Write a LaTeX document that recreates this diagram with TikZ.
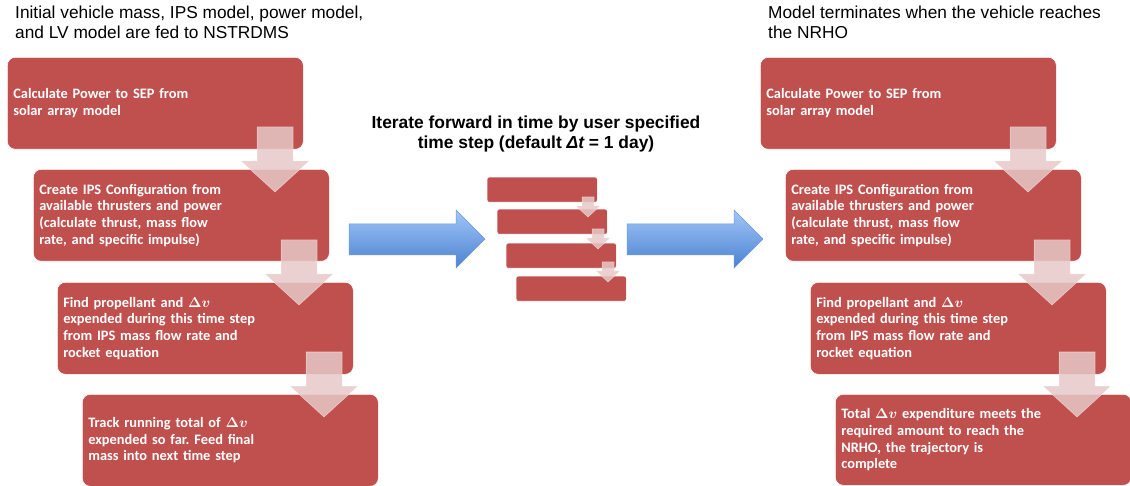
\documentclass[tikz,border=0pt]{standalone}
\usepackage{fontspec}
\setmainfont{Liberation Sans}
\newfontfamily\boxfont{Carlito}
\frenchspacing
\definecolor{boxred}{HTML}{C0504D}
\definecolor{arrpink}{HTML}{E6C8C8}
\definecolor{bluetop}{RGB}{160,198,248}
\definecolor{bluebot}{RGB}{76,130,208}
\definecolor{blueedge}{RGB}{110,155,215}
\tikzset{
  pics/bigdown/.style={code={\path[downarrow] (-18,0) -- (18,0) -- (18,34) -- (34,34) -- (0,65) -- (-34,34) -- (-18,34) -- cycle;}},
  pics/smalldown/.style={code={\path[downarrow] (-6,0) -- (6,0) -- (6,9) -- (12,9) -- (0,20) -- (-12,9) -- (-6,9) -- cycle;}}
}
\begin{document}
\begin{tikzpicture}[x=1pt,y=-1pt,
  stepbox/.style={fill=boxred, draw=white, line width=0.6pt, rounded corners=8pt, anchor=north west,
    minimum height=92pt, text width=284pt, inner xsep=6pt, inner ysep=0pt, align=left, text=white,
    font=\boxfont\bfseries\fontsize{14.4}{16.7}\selectfont\boldmath},
  minibox/.style={fill=boxred, draw=white, line width=0.4pt, rounded corners=2pt, anchor=north west,
    minimum width=110pt, minimum height=25pt, inner sep=0pt},
  downarrow/.style={fill=arrpink, fill opacity=0.85, draw=white, draw opacity=0.5, line width=0.5pt},
  bluearrow/.style={top color=bluetop, bottom color=bluebot, draw=blueedge, line width=0.5pt},
  heading/.style={anchor=north west, align=left, font=\fontsize{17.3}{20}\selectfont, inner sep=0pt},
  midhead/.style={anchor=north, align=center, font=\bfseries\fontsize{17.4}{20}\selectfont, inner sep=0pt}
]
\useasboundingbox (0,0) rectangle (1130,486);

% headings
\node[heading] (hl) at (15,6) {Initial vehicle mass, IPS model, power model,\\and LV model are fed to NSTRDMS};
\node[heading] (hr) at (768,6) {Model terminates when the vehicle reaches\\the NRHO};
\node[midhead] (hm) at (536,116) {Iterate forward in time by user specified\\time step (default {\itshape Δt} = 1 day)};

% left column
\node[stepbox] (l1) at (7,57) {Calculate Power to SEP from\\solar array model};
\node[stepbox] (l2) at (33,169) {Create IPS Configuration from\\available thrusters and power\\(calculate thrust, mass flow\\rate, and specific impulse)};
\node[stepbox] (l3) at (57,282) {Find propellant and $\Delta v$\\expended during this time step\\from IPS mass flow rate and\\rocket equation};
\node[stepbox] (l4) at (82,394) {Track running total of $\Delta v$\\expended so far. Feed final\\mass into next time step};
\pic at (275,127) {bigdown};
\pic at (299,240) {bigdown};
\pic at (324,352) {bigdown};

% right column
\node[stepbox] (r1) at (760,57) {Calculate Power to SEP from\\solar array model};
\node[stepbox] (r2) at (785,169) {Create IPS Configuration from\\available thrusters and power\\(calculate thrust, mass flow\\rate, and specific impulse)};
\node[stepbox] (r3) at (810,282) {Find propellant and $\Delta v$\\expended during this time step\\from IPS mass flow rate and\\rocket equation};
\node[stepbox, minimum height=91pt] (r4) at (835,394) {Total $\Delta v$ expenditure meets the\\required amount to reach the\\NRHO, the trajectory is\\complete};
\pic at (1028,127) {bigdown};
\pic at (1052,240) {bigdown};
\pic at (1077,352) {bigdown};

% middle mini stack
\node[minibox] (m1) at (487,177) {};
\node[minibox] (m2) at (497,209) {};
\node[minibox] (m3) at (506,243) {};
\node[minibox] (m4) at (516,276) {};
\pic at (588,197) {smalldown};
\pic at (598,229) {smalldown};
\pic at (608,262) {smalldown};

% blue arrows
\path[bluearrow] (349,224) -- (456,224) -- (456,210) -- (485,239) -- (456,268) -- (456,255) -- (349,255) -- cycle;
\path[bluearrow] (627,224) -- (734,224) -- (734,210) -- (763,239) -- (734,268) -- (734,255) -- (627,255) -- cycle;
\end{tikzpicture}
\end{document}
